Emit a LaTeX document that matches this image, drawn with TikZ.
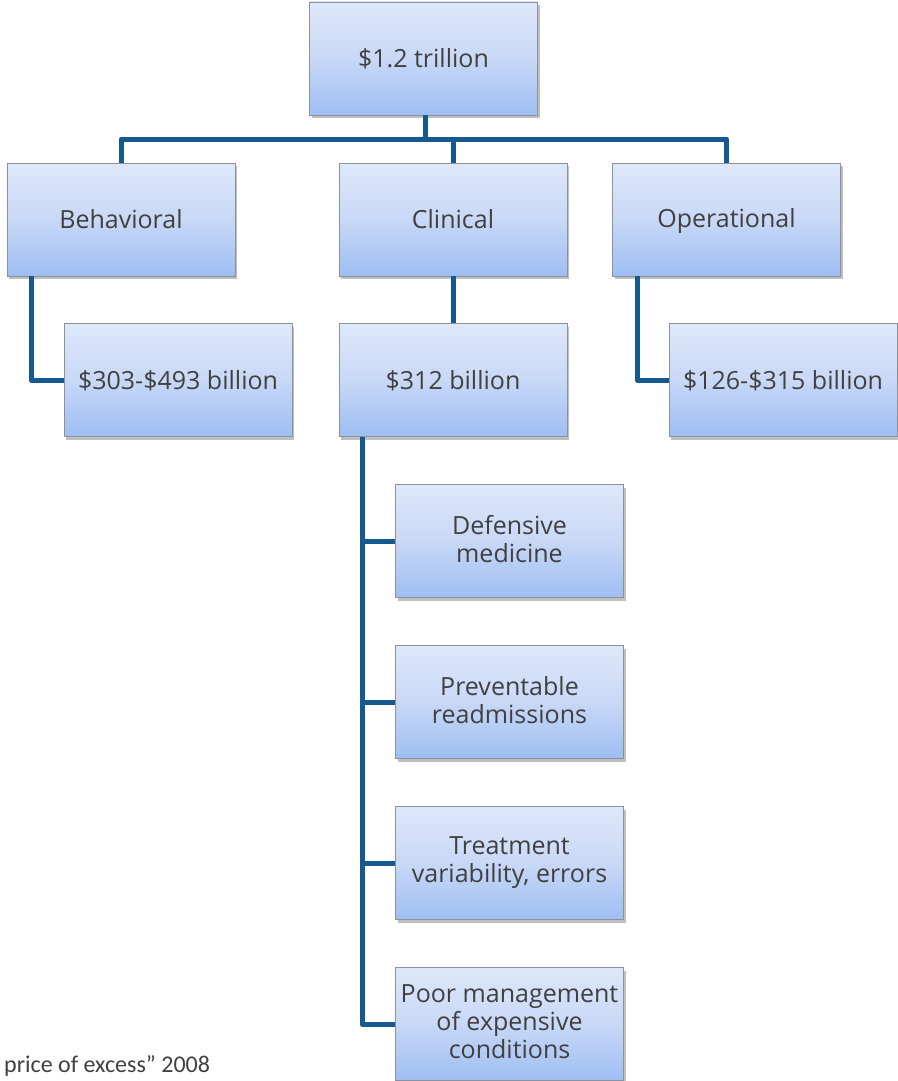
\documentclass[tikz,border=0pt]{standalone}
\usepackage{fontspec}
\setmainfont{Open Sans}
\newfontfamily\footfont{Carlito}
\usetikzlibrary{shadows}
\definecolor{conncol}{RGB}{22,89,144}
\definecolor{boxtop}{RGB}{222,232,250}
\definecolor{boxmid}{RGB}{200,216,246}
\definecolor{boxbot}{RGB}{158,190,242}
\definecolor{boxline}{RGB}{140,145,155}
\definecolor{txt}{RGB}{64,64,64}
\newcommand{\boxstrut}{\rule[-5pt]{0pt}{28pt}}
\begin{document}
\begin{tikzpicture}[x=1pt,y=-1pt,
  box/.style={draw=boxline, line width=0.8pt, top color=boxtop, bottom color=boxbot, middle color=boxmid,
    minimum width=228pt, minimum height=113pt, inner sep=2pt, align=center, text=txt,
    font=\fontsize{25}{28}\selectfont,
    execute at begin node=\boxstrut, execute at end node=\boxstrut,
    drop shadow={shadow xshift=2pt, shadow yshift=-3pt, opacity=0.25, fill=black}},
  conn/.style={draw=conncol, line width=5pt, line join=round}]
\useasboundingbox (0,0) rectangle (897,1081);
\fill[white] (0,0) rectangle (897,1081);
% nodes
\node[box] (top) at (423.5,58.5) {\$1.2 trillion};
\node[box] (beh) at (121,219.5) {Behavioral};
\node[box] (cli) at (453,219.5) {Clinical};
\node[box] (ope) at (726.5,219.5) {Operational};
\node[box] (b1) at (178,380) {\$303-\$493 billion};
\node[box] (b2) at (453,380) {\$312 billion};
\node[box] (b3) at (783,380) {\$126-\$315 billion};
\node[box] (c1) at (509.5,541) {Defensive\\medicine};
\node[box] (c2) at (509.5,702) {Preventable\\readmissions};
\node[box] (c3) at (509.5,863) {Treatment\\variability, errors};
\node[box] (c4) at (509.5,1024) {Poor management\\of expensive\\conditions};
\node[anchor=base west, inner sep=0pt, text=txt, font=\footfont\fontsize{24}{27}\selectfont] (foot) at (4,1072) {price of excess” 2008};
% connectors
\coordinate (bus) at (425,139);
\draw[conn] (beh.north) |- (bus) -| (ope.north);
\draw[conn] ([xshift=1.5pt]top.south) -- ([xshift=1.5pt]top.south |- bus);
\draw[conn] (cli.north) -- (cli.north |- bus);
\draw[conn] ([xshift=-90pt]beh.south) |- (b1.west);
\draw[conn] ([xshift=-89.5pt]ope.south) |- (b3.west);
\draw[conn] (cli.south) -- (b2.north);
\draw[conn] ([xshift=-91pt]b2.south) |- (c4.west);
\draw[conn] ([xshift=-91pt]b2.south |- c1.west) -- (c1.west);
\draw[conn] ([xshift=-91pt]b2.south |- c2.west) -- (c2.west);
\draw[conn] ([xshift=-91pt]b2.south |- c3.west) -- (c3.west);
\end{tikzpicture}
\end{document}
